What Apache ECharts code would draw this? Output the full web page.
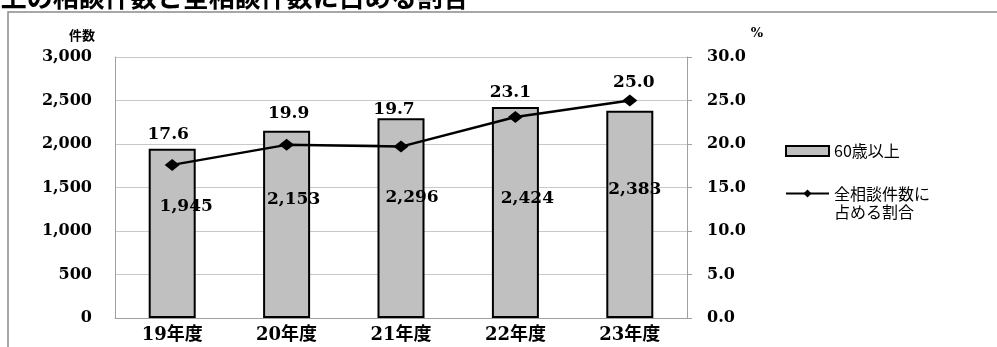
<!DOCTYPE html>
<html>
<head>
<meta charset="utf-8">
<script src="https://cdn.jsdelivr.net/npm/echarts@6/dist/echarts.min.js"></script>
<style>
html,body{margin:0;padding:0;background:#fff;}
#chart{width:997px;height:347px;}
</style>
</head>
<body>
<div id="chart"></div>
<script>
const categories = ['19年度', '20年度', '21年度', '22年度', '23年度'];
const countValues = [1945, 2153, 2296, 2424, 2383];
const shareValues = [17.6, 19.9, 19.7, 23.1, 25.0];
const leftTicks = { min: 0, max: 3000, interval: 500 };
const rightTicks = { min: 0, max: 30, interval: 5 };
const barName = '60歳以上';
const lineName = '全相談件数に占める割合';
const titleText = '60歳以上の相談件数と全相談件数に占める割合';

const serif = '"DejaVu Serif", "Noto Sans CJK JP", serif';
const cjk = '"DejaVu Serif", "Noto Sans CJK JP", sans-serif';

// label placement styles (not data)
const barLabelPos = [[14, 58], [7, 69], [11, 79], [12, 91], [5, 79]];
const lineLabelOff = [[-4, -11], [2, -12], [-7, -18], [-5, -5], [4, 2]];

const chart = echarts.init(document.getElementById('chart'), null, { renderer: 'canvas' });

const option = {
  backgroundColor: '#fff',
  animation: false,
  grid: { left: 115, right: 310, top: 57, bottom: 29 },
  graphic: [
    { type: 'rect', z: 0, shape: { x: 8, y: 12, width: 1100, height: 400 },
      style: { fill: 'none', stroke: '#8a8a8a', lineWidth: 1.5 } },
    { type: 'text', x: -82, y: -3, style: { text: titleText, font: 'bold 26px "Noto Sans CJK JP", sans-serif',
      fill: '#000', verticalAlign: 'middle', textAlign: 'left' } },
    { type: 'text', x: 82, y: 35, style: { text: '件数', font: 'bold 13px "Noto Sans CJK JP", sans-serif',
      fill: '#000', align: 'center', verticalAlign: 'middle' } },
    { type: 'text', x: 757, y: 34, style: { text: '%', font: 'bold 13px "DejaVu Serif", serif',
      fill: '#000', align: 'center', verticalAlign: 'middle' } }
  ],
  legend: {
    orient: 'vertical',
    left: 785,
    top: 142,
    padding: 0,
    itemWidth: 43,
    itemHeight: 10,
    itemGap: 6.5,
    textStyle: { fontFamily: '"Noto Sans CJK JP", sans-serif', fontSize: 16, color: '#000', lineHeight: 18 },
    formatter: function (n) { return n === lineName ? ' \n全相談件数に\n占める割合' : n; },
    data: [
      { name: barName, icon: 'rect' },
      { name: lineName }
    ]
  },
  xAxis: {
    type: 'category',
    data: categories,
    axisLine: { lineStyle: { color: '#a0a0a0', width: 1 } },
    axisTick: { show: false },
    axisLabel: { color: '#000', fontFamily: cjk, fontSize: 18, fontWeight: 'bold', margin: 8 }
  },
  yAxis: [
    {
      type: 'value', min: leftTicks.min, max: leftTicks.max, interval: leftTicks.interval,
      axisLine: { show: true, lineStyle: { color: '#a0a0a0' } },
      axisTick: { show: false },
      splitLine: { lineStyle: { color: '#c8c8c8', width: 1 } },
      axisLabel: { color: '#000', fontFamily: serif, fontSize: 16, fontWeight: 'bold', margin: 23,
        formatter: function (v) { return v.toLocaleString('en-US'); } }
    },
    {
      type: 'value', min: rightTicks.min, max: rightTicks.max, interval: rightTicks.interval,
      position: 'right',
      axisLine: { show: true, lineStyle: { color: '#a0a0a0' } },
      axisTick: { show: true, length: 5, lineStyle: { color: '#a0a0a0' } },
      splitLine: { show: false },
      axisLabel: { color: '#000', fontFamily: serif, fontSize: 16, fontWeight: 'bold', margin: 20,
        formatter: function (v) { return v.toFixed(1); } }
    }
  ],
  series: [
    {
      name: barName,
      type: 'bar',
      barWidth: 47,
      yAxisIndex: 0,
      z: 2,
      itemStyle: { color: '#c0c0c0', borderColor: '#000', borderWidth: 2 },
      data: countValues.map(function (v, i) {
        return { value: v, label: { position: ['50%', barLabelPos[i][1]], offset: [barLabelPos[i][0], 0] } };
      }),
      label: {
        show: true, align: 'center', verticalAlign: 'middle',
        color: '#000', fontFamily: serif, fontSize: 17, fontWeight: 'bold',
        formatter: function (p) { return p.value.toLocaleString('en-US'); }
      }
    },
    {
      name: lineName,
      type: 'line',
      yAxisIndex: 1,
      z: 5,
      symbol: 'diamond',
      symbolSize: [15, 12],
      lineStyle: { color: '#000', width: 2.5 },
      itemStyle: { color: '#000' },
      data: shareValues.map(function (v, i) {
        return { value: v, label: { offset: lineLabelOff[i] } };
      }),
      label: {
        show: true, position: 'top', distance: 5,
        color: '#000', fontFamily: serif, fontSize: 17, fontWeight: 'bold',
        formatter: function (p) { return p.value.toFixed(1); }
      }
    }
  ]
};
chart.setOption(option);
</script>
</body>
</html>
